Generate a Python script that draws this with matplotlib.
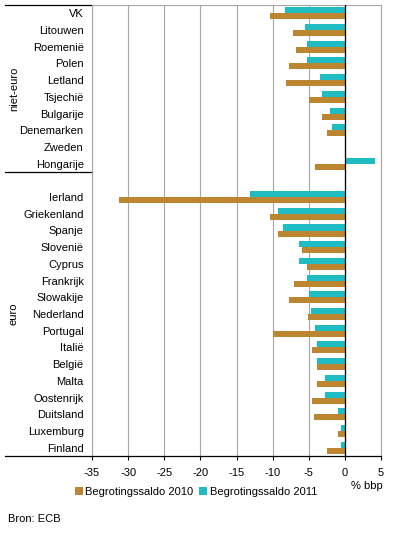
import numpy as np
import matplotlib.pyplot as plt
from matplotlib import rcParams

rcParams.update({
    'font.family': ['Liberation Sans', 'DejaVu Sans'],
    'font.size': 8,
    'axes.unicode_minus': False,
})

# ===== data (% bbp) =====
niet_euro = ["VK", "Litouwen", "Roemenië", "Polen", "Letland", "Tsjechië",
             "Bulgarije", "Denemarken", "Zweden", "Hongarije"]
niet_euro_2010 = [-10.3, -7.2, -6.8, -7.8, -8.2, -4.9, -3.2, -2.5, 0.2, -4.2]
niet_euro_2011 = [-8.3, -5.5, -5.3, -5.2, -3.5, -3.2, -2.1, -1.8, 0.1, 4.2]

euro = ["Ierland", "Griekenland", "Spanje", "Slovenië", "Cyprus", "Frankrijk",
        "Slowakije", "Nederland", "Portugal", "Italië", "België", "Malta",
        "Oostenrijk", "Duitsland", "Luxemburg", "Finland"]
euro_2010 = [-31.3, -10.4, -9.3, -6.0, -5.3, -7.1, -7.8, -5.1, -9.9, -4.6,
             -3.9, -3.8, -4.6, -4.3, -1.0, -2.5]
euro_2011 = [-13.2, -9.2, -8.6, -6.4, -6.4, -5.3, -4.9, -4.7, -4.2, -3.9,
             -3.8, -2.8, -2.7, -1.0, -0.6, -0.6]

col_2010 = '#BC8530'
col_2011 = '#1FBCC4'

# one empty row between the groups
labels = niet_euro + [""] + euro
v2010 = np.array(niet_euro_2010 + [np.nan] + euro_2010)
v2011 = np.array(niet_euro_2011 + [np.nan] + euro_2011)
pos = np.arange(len(labels))

W, H = 396, 534
fig = plt.figure(figsize=(W / 100, H / 100), dpi=100)
ax = fig.add_axes([92 / W, 1 - 456 / H, 289 / W, 451 / H])

h = 0.36
ax.barh(pos - h / 2, v2011, height=h, color=col_2011, label="Begrotingssaldo 2011", zorder=3)
ax.barh(pos + h / 2, v2010, height=h, color=col_2010, label="Begrotingssaldo 2010", zorder=3)

ax.set_ylim(len(labels) - 0.5, -0.5)
ax.set_xlim(-35, 5)
ax.set_xticks(np.arange(-35, 6, 5))
ax.set_yticks(pos)
ax.set_yticklabels(labels)
ax.tick_params(axis='y', length=0, pad=6)
ax.tick_params(axis='x', length=3, direction='out', color='black', pad=6)

ax.grid(axis='x', color='#A6A6A6', linewidth=0.8, zorder=0)
ax.axvline(0, color='black', linewidth=0.9, zorder=4)
for s in ['top', 'left', 'right']:
    ax.spines[s].set_color('#A6A6A6')
    ax.spines[s].set_linewidth(0.8)
ax.spines['bottom'].set_linewidth(0.9)

# group separators and labels to the left
tr = ax.get_yaxis_transform()
x0 = (5 - 92) / 289
ax.plot([x0, 0], [-0.5, -0.5], color='black', lw=0.9, transform=tr, clip_on=False)
ax.plot([x0, 0], [9.5, 9.5], color='black', lw=0.9, transform=tr, clip_on=False)
ax.plot([x0, 0], [26.5, 26.5], color='black', lw=0.9, transform=tr, clip_on=False)
xg = (14 - 92) / 289
ax.text(xg, 4.5, "niet-euro", rotation=90, ha='center', va='center', transform=tr)
ax.text(xg, 18, "euro", rotation=90, ha='center', va='center', transform=tr)

handles, lbls = ax.get_legend_handles_labels()
fig.legend(handles[::-1], lbls[::-1], loc='center', bbox_to_anchor=(196 / W, 1 - 492 / H),
           ncol=2, frameon=False, handlelength=0.7, handleheight=0.7,
           handletextpad=0.25, columnspacing=0.5, borderpad=0)

fig.text(383 / W, 1 - 486 / H, "% bbp", ha='right', va='center')
fig.text(8 / W, 1 - 519 / H, "Bron: ECB", ha='left', va='center')

fig.savefig('out.png', dpi=100)
